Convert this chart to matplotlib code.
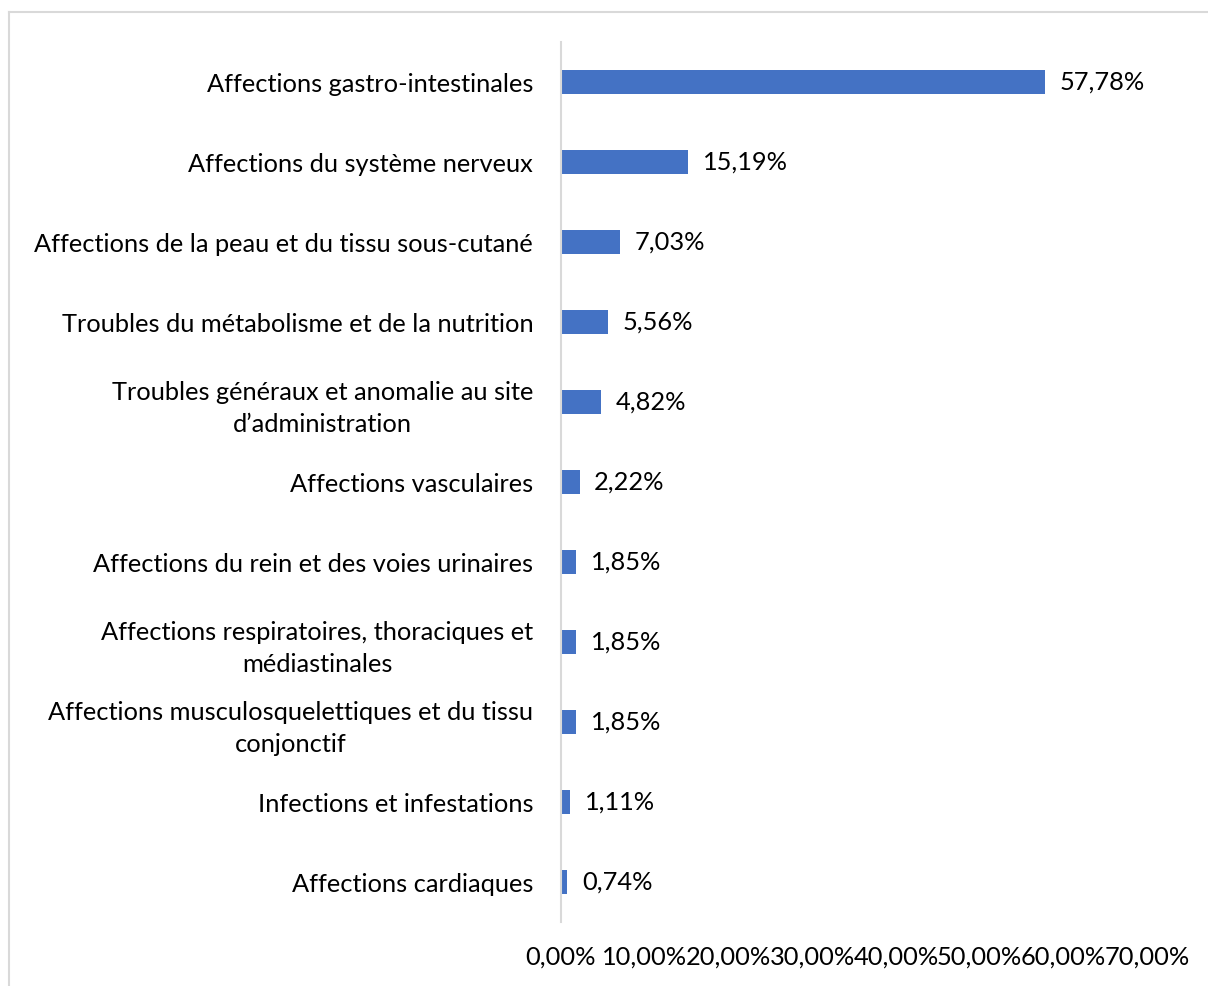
import matplotlib.pyplot as plt
from matplotlib.lines import Line2D

plt.rcParams['font.family'] = ['Lato', 'DejaVu Sans']

categories = [
    "Affections gastro-intestinales",
    "Affections du système nerveux",
    "Affections de la peau et du tissu sous-cutané",
    "Troubles du métabolisme et de la nutrition",
    "Troubles généraux et anomalie au site\nd\u2019administration",
    "Affections vasculaires",
    "Affections du rein et des voies urinaires",
    "Affections respiratoires, thoraciques et\nmédiastinales",
    "Affections musculosquelettiques et du tissu\nconjonctif",
    "Infections et infestations",
    "Affections cardiaques",
]
values = [57.78, 15.19, 7.03, 5.56, 4.82, 2.22, 1.85, 1.85, 1.85, 1.11, 0.74]
xticks = [0, 10, 20, 30, 40, 50, 60, 70]


def fr_pct(v):
    return "{:.2f}%".format(v).replace(".", ",")


FS = 18.3

fig = plt.figure(figsize=(12.08, 9.86), dpi=100)
ax = fig.add_axes([561 / 1208, 64 / 986, 586 / 1208, 880 / 986])

pos = list(range(len(categories)))[::-1]
ax.barh(pos, values, height=0.31, color="#4472C4")

for p, v in zip(pos, values):
    ax.annotate(fr_pct(v), (v, p), xytext=(10.5, 0), textcoords="offset points",
                va="center", ha="left", fontsize=FS, color="black")

ax.set_xlim(0, 70)
ax.set_ylim(-0.5, len(categories) - 0.5)
ax.set_xticks(xticks)
ax.set_xticklabels([fr_pct(t) for t in xticks], fontsize=FS)
ax.set_yticks(pos)
ax.set_yticklabels(categories, fontsize=FS, multialignment="center",
                   linespacing=1.45)
ax.tick_params(axis="x", length=0, pad=17)
ax.tick_params(axis="y", length=0, pad=20)

for s in ["top", "right", "bottom"]:
    ax.spines[s].set_visible(False)
ax.spines["left"].set_color("#d9d9d9")
ax.spines["left"].set_linewidth(1.5)

# light chart border (top and left edges visible)
fig.add_artist(Line2D([9 / 1208, 1.0], [1 - 12 / 986, 1 - 12 / 986],
                      transform=fig.transFigure, color="#d9d9d9", lw=1.5))
fig.add_artist(Line2D([9 / 1208, 9 / 1208], [0, 1 - 12 / 986],
                      transform=fig.transFigure, color="#d9d9d9", lw=1.5))

fig.savefig("out.png", dpi=100)
